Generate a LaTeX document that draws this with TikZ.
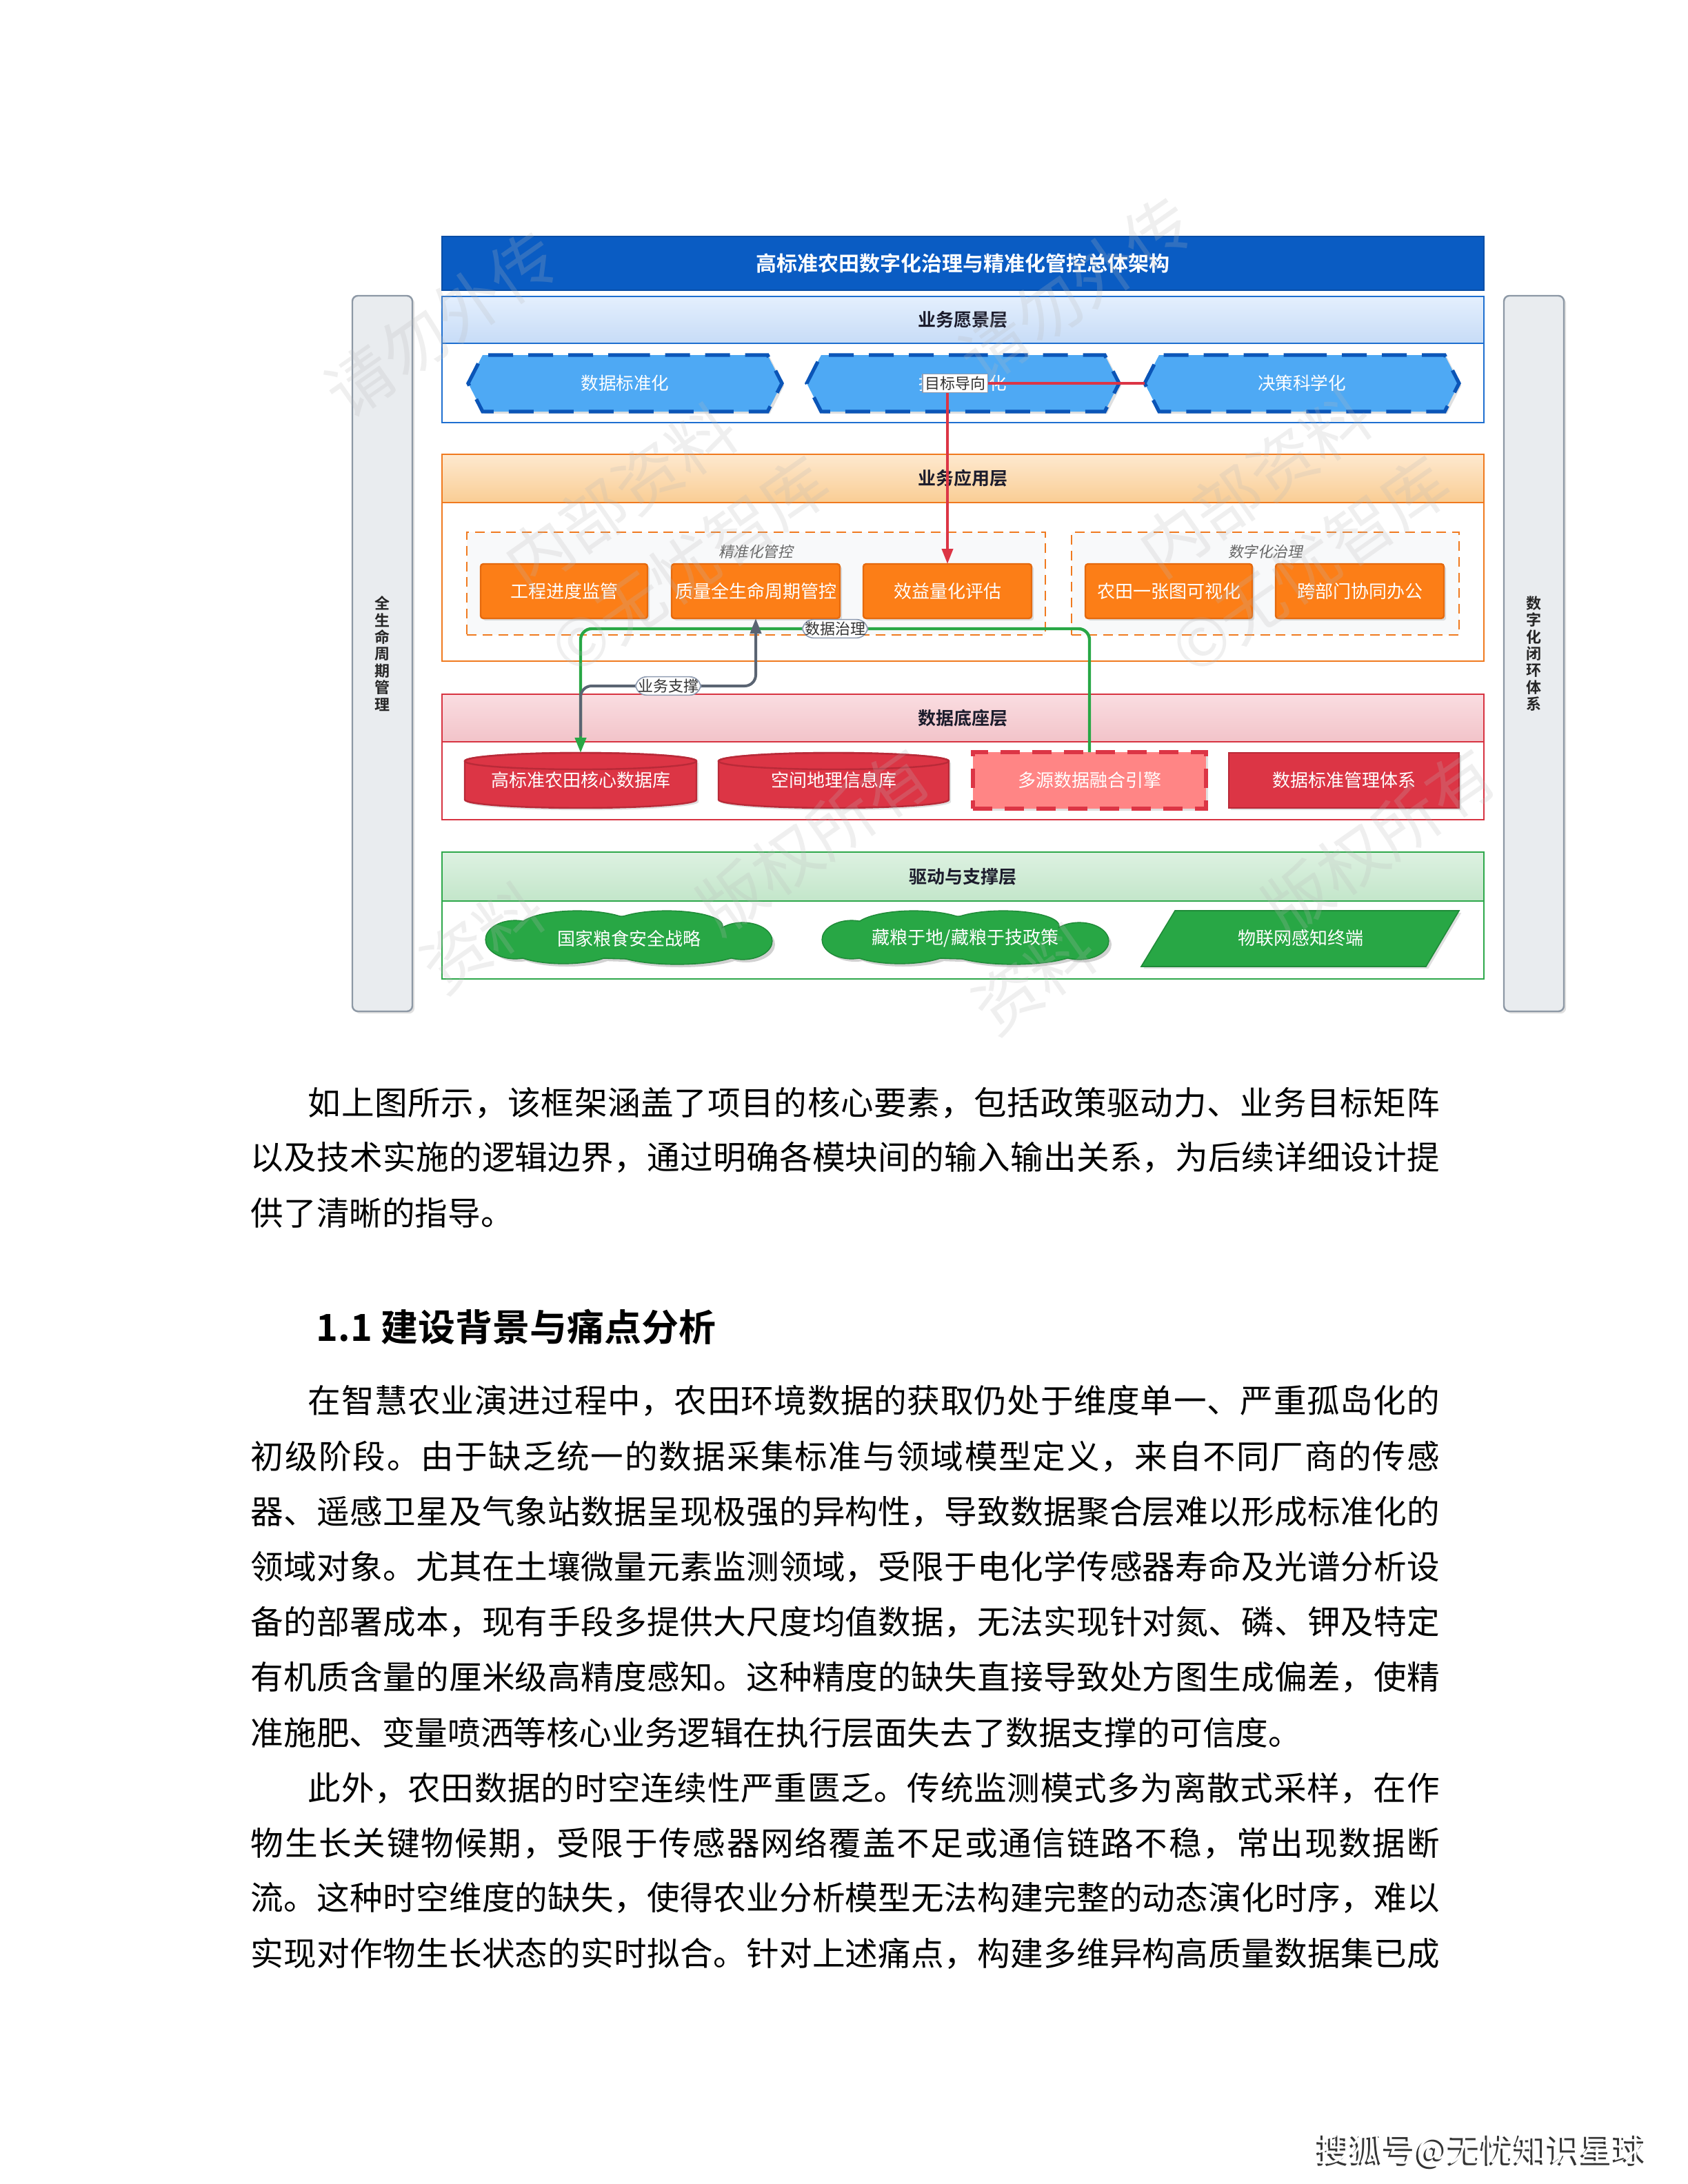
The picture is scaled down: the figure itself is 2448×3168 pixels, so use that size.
\documentclass[tikz,border=0pt]{standalone}
\usepackage{fontspec}
\setmainfont{Noto Sans CJK SC}[BoldFont={Noto Sans CJK SC Bold}]
\newfontfamily\slcjk{Noto Sans CJK SC}[FakeSlant=0.2]
\usetikzlibrary{shapes.geometric,shapes.symbols,shadows,arrows.meta}
\definecolor{tblue}{HTML}{0A5CC3}
\definecolor{Laline}{HTML}{1E6FD0}\definecolor{Latop}{HTML}{E4EFFD}\definecolor{Labot}{HTML}{C7DCF7}
\definecolor{hexfill}{HTML}{4EA9F4}\definecolor{hexline}{HTML}{0B55B7}
\definecolor{Lbline}{HTML}{F07A1F}\definecolor{Lbtop}{HTML}{FEE9CF}\definecolor{Lbbot}{HTML}{F9CD94}
\definecolor{orfill}{HTML}{FC7E17}\definecolor{orline}{HTML}{E56A0E}\definecolor{grpfill}{HTML}{F8F9FA}
\definecolor{Lcline}{HTML}{D73341}\definecolor{Lctop}{HTML}{FADDE1}\definecolor{Lcbot}{HTML}{F2C3C9}
\definecolor{redfill}{HTML}{DC3545}\definecolor{redline}{HTML}{B92A38}\definecolor{fusefill}{HTML}{FF8585}
\definecolor{Ldline}{HTML}{2EA84B}\definecolor{Ldtop}{HTML}{DDF1E1}\definecolor{Ldbot}{HTML}{C3E6CA}
\definecolor{grfill}{HTML}{28A745}\definecolor{grline}{HTML}{1F8A38}
\definecolor{barfill}{HTML}{E9ECEF}\definecolor{barline}{HTML}{8D98A5}
\definecolor{argray}{HTML}{5A6472}\definecolor{elab}{HTML}{8E9BB0}\definecolor{hdtext}{HTML}{1C1C2C}
\newcommand\fs[1]{\fontsize{#1}{#1}\selectfont}
\def\spr#1{\ifx\relax#1\else#1\hfill\expandafter\spr\fi}
\newcommand\jline[2]{\makebox[#1][s]{\spr#2\relax\unskip}}
\newcommand\bx[7]{\node[#6, inner sep=0pt, outer sep=0pt, minimum width={(#4-#2)*0.25pt}, minimum height={(#5-#3)*0.25pt}] (#1) at ({(#2+#4)/2},{(#3+#5)/2}) {#7};}
\newcommand\cyl[4]{%
  \filldraw[fill=redfill, draw=redline, line width=0.6pt, drop shadow={shadow xshift=0.8pt, shadow yshift=-0.8pt, opacity=0.25}]
    (#1,#3+12) -- (#1,#4-12) arc[start angle=180, end angle=360, x radius={(#2-#1)*0.125pt}, y radius=3pt]
    -- (#2,#3+12) arc[start angle=0, end angle=180, x radius={(#2-#1)*0.125pt}, y radius=3pt] -- cycle;
  \draw[redline, line width=0.6pt] ({(#1+#2)/2},#3+12) ellipse[x radius={(#2-#1)*0.125pt}, y radius=3pt];}
\newcommand\puffs{0/0/150/30, -165/3/42/27, 165/5/42/26, -75/-13/85/25, 55/-17/80/21, -95/16/75/21, 70/17/95/21}
\newcommand\cloudblob[2]{%
  \begin{scope}[shift={(#1,#2)}]
    \foreach \ex/\ey/\rx/\ry in \puffs {\fill[black!18] (\ex+5,\ey+5) ellipse[x radius={\rx*0.25pt}, y radius={\ry*0.25pt}];}
    \foreach \ex/\ey/\rx/\ry in \puffs {\draw[grline, line width=0.8pt] (\ex,\ey) ellipse[x radius={\rx*0.25pt}, y radius={\ry*0.25pt}];}
    \foreach \ex/\ey/\rx/\ry in \puffs {\fill[grfill] (\ex,\ey) ellipse[x radius={\rx*0.25pt}, y radius={\ry*0.25pt}];}
  \end{scope}}
\begin{document}
\begin{tikzpicture}[x=0.25pt,y=-0.25pt,
  shd/.style={drop shadow={shadow xshift=0.8pt, shadow yshift=-0.8pt, opacity=0.25}},
  titlebar/.style={fill=tblue, draw=tblue!85!black, line width=0.5pt, text=white, font=\bfseries\fs{7.5pt}},
  hdrtext/.style={font=\bfseries\fs{6.5pt}, text=hdtext},
  lbody/.style={fill=white, draw=#1, line width=0.7pt},
  lhead/.style n args={3}{draw=#1, line width=0.7pt, top color=#2, bottom color=#3, hdrtext},
  hexs/.style={signal, signal to=east and west, signal pointer angle=126, fill=hexfill, draw=hexline, line width=1.3pt, dash pattern=on 9pt off 5.5pt, text=white, font=\fs{6.4pt}, shd},
  obox/.style={fill=orfill, draw=orline, line width=0.6pt, rounded corners=1pt, text=white, font=\fs{6.5pt}, shd},
  grp/.style={fill=grpfill, draw=Lbline, line width=0.6pt, dash pattern=on 3.5pt off 2.2pt},
  grplabel/.style={inner sep=0pt, text=black!60, font=\slcjk\fs{5.4pt}},
  txtw/.style={text=white, font=\fs{6.5pt}},
  fusest/.style={fill=fusefill, draw=redfill, line width=1.3pt, dash pattern=on 7pt off 4.5pt, text=white, font=\fs{6.5pt}, shd},
  redbox/.style={fill=redfill, draw=redline, line width=0.5pt, text=white, font=\fs{6.5pt}, shd},
  sidebar/.style={fill=barfill, draw=barline, line width=0.6pt, rounded corners=2pt, align=center, font=\bfseries\fontsize{5.5pt}{6.1pt}\selectfont, text=black!85, shd},
  elabel/.style={fill=white, draw=elab, line width=0.4pt, inner sep=0.8pt, text=black!80, font=\fs{5.5pt}},
  conn/.style={line width=#1, rounded corners=4pt},
  tip/.style={-{Triangle[length=5.5pt,width=4pt]}},
  para/.style={anchor=west, inner sep=0pt, text=black, font=\fs{11.9pt}},
  wm/.style={text=gray!55, opacity=0.22, font=\fs{24pt}, rotate=35}
]
\useasboundingbox (0,0) rectangle (2448,3168);
\fill[white] (0,0) rectangle (2448,3168);

% side bars
\bx{lbar}{511}{429}{598}{1467}{sidebar}{全\\生\\命\\周\\期\\管\\理}
\bx{rbar}{2181}{429}{2268}{1467}{sidebar}{数\\字\\化\\闭\\环\\体\\系}

% title
\bx{title}{641}{343}{2152}{421}{titlebar}{高标准农田数字化治理与精准化管控总体架构}

% layer 1
\bx{L1b}{641}{498}{2152}{613}{lbody=Laline}{}
\bx{L1h}{641}{430}{2152}{498}{lhead={Laline}{Latop}{Labot}}{业务愿景层}
\bx{h1}{679}{515}{1134}{597}{hexs}{数据标准化}
\bx{h2}{1170}{515}{1623}{597}{hexs}{指标导向化}
\bx{h3}{1660}{515}{2116}{597}{hexs}{决策科学化}

% layer 2
\bx{L2b}{641}{729}{2152}{959}{lbody=Lbline}{}
\bx{L2h}{641}{659}{2152}{729}{lhead={Lbline}{Lbtop}{Lbbot}}{业务应用层}
\bx{g1}{677}{772}{1516}{921}{grp}{}
\bx{g2}{1554}{772}{2116}{921}{grp}{}
\node[grplabel] (g1l) at (1096,800) {精准化管控};
\node[grplabel] (g2l) at (1835,800) {数字化治理};
\bx{b1}{697}{818}{939}{897}{obox}{工程进度监管}
\bx{b2}{974}{818}{1218}{897}{obox}{质量全生命周期管控}
\bx{b3}{1252}{818}{1496}{897}{obox}{效益量化评估}
\bx{b4}{1574}{818}{1816}{897}{obox}{农田一张图可视化}
\bx{b5}{1850}{818}{2094}{897}{obox}{跨部门协同办公}

% layer 3
\bx{L3b}{641}{1076}{2152}{1189}{lbody=Lcline}{}
\bx{L3h}{641}{1007}{2152}{1076}{lhead={Lcline}{Lctop}{Lcbot}}{数据底座层}
\cyl{674}{1010}{1092}{1172}
\bx{db1}{674}{1092}{1010}{1172}{txtw}{高标准农田核心数据库}
\cyl{1042}{1376}{1092}{1172}
\bx{db2}{1042}{1092}{1376}{1172}{txtw}{空间地理信息库}
\bx{fuse}{1411}{1091}{1749}{1173}{fusest}{多源数据融合引擎}
\bx{std}{1782}{1092}{2116}{1172}{redbox}{数据标准管理体系}

% layer 4
\bx{L4b}{641}{1307}{2152}{1420}{lbody=Ldline}{}
\bx{L4h}{641}{1236}{2152}{1307}{lhead={Ldline}{Ldtop}{Ldbot}}{驱动与支撑层}
\cloudblob{912}{1360}
\node[txtw] (c1) at (912,1361) {国家粮食安全战略};
\cloudblob{1400}{1360}
\node[txtw] (c2) at (1400,1361) {藏粮于地/藏粮于技政策};
\filldraw[fill=grfill, draw=grline, line width=0.4pt, shd] (1704,1321) -- (2116,1321) -- (2068,1402) -- (1655,1402) -- cycle;
\node[txtw] (iot) at (1886,1361) {物联网感知终端};

% connectors
\coordinate (gbend) at (0,912);
\coordinate (ybend) at (0,995);
\draw[conn=1.1pt, draw=grfill, tip] (fuse.north) |- node[pos=0.75, elabel] {数据治理} (db1.north |- gbend) -- (db1.north);
\draw[conn=1pt, draw=argray, tip] ([yshift=6pt]db1.north) |- node[pos=0.75, elabel] {业务支撑} (b2.south |- ybend) -- (b2.south);
\draw[line width=1pt, draw=redfill, tip] (h3.west) -| node[pos=0.48, elabel] {目标导向} (b3.north);

% watermark
\node[wm] (wa1) at (640,470) {请勿外传};
\node[wm] (wa2) at (1560,420) {请勿外传};
\node[wm] (wb1) at (900,720) {内部资料};
\node[wm] (wb2) at (1820,700) {内部资料};
\node[wm] (wc1) at (1000,820) {©无忧智库};
\node[wm] (wc2) at (1900,820) {©无忧智库};
\node[wm] (wd1) at (1180,1220) {版权所有};
\node[wm] (wd2) at (2000,1220) {版权所有};
\node[wm] (we1) at (700,1360) {资料};
\node[wm] (we2) at (1500,1420) {资料};

% body text
\node[para] (p1a) at (446,1600) {\jline{410.25pt}{如上图所示，该框架涵盖了项目的核心要素，包括政策驱动力、业务目标矩阵}};
\node[para] (p1b) at (363,1679) {\jline{431pt}{以及技术实施的逻辑边界，通过明确各模块间的输入输出关系，为后续详细设计提}};
\node[para] (p1c) at (363,1759) {供了清晰的指导。};

\node[anchor=west, inner sep=0pt, font=\bfseries\fs{13.5pt}] (head) at (458,1925) {1.1 建设背景与痛点分析};

\node[para] (p2a) at (446,2032) {\jline{410.25pt}{在智慧农业演进过程中，农田环境数据的获取仍处于维度单一、严重孤岛化的}};
\node[para] (p2b) at (363,2113) {\jline{431pt}{初级阶段。由于缺乏统一的数据采集标准与领域模型定义，来自不同厂商的传感}};
\node[para] (p2c) at (363,2193) {\jline{431pt}{器、遥感卫星及气象站数据呈现极强的异构性，导致数据聚合层难以形成标准化的}};
\node[para] (p2d) at (363,2273) {\jline{431pt}{领域对象。尤其在土壤微量元素监测领域，受限于电化学传感器寿命及光谱分析设}};
\node[para] (p2e) at (363,2353) {\jline{431pt}{备的部署成本，现有手段多提供大尺度均值数据，无法实现针对氮、磷、钾及特定}};
\node[para] (p2f) at (363,2433) {\jline{431pt}{有机质含量的厘米级高精度感知。这种精度的缺失直接导致处方图生成偏差，使精}};
\node[para] (p2g) at (363,2513) {准施肥、变量喷洒等核心业务逻辑在执行层面失去了数据支撑的可信度。};
\node[para] (p3a) at (446,2594) {\jline{410.25pt}{此外，农田数据的时空连续性严重匮乏。传统监测模式多为离散式采样，在作}};
\node[para] (p3b) at (363,2674) {\jline{431pt}{物生长关键物候期，受限于传感器网络覆盖不足或通信链路不稳，常出现数据断}};
\node[para] (p3c) at (363,2753) {\jline{431pt}{流。这种时空维度的缺失，使得农业分析模型无法构建完整的动态演化时序，难以}};
\node[para] (p3d) at (363,2834) {\jline{431pt}{实现对作物生长状态的实时拟合。针对上述痛点，构建多维异构高质量数据集已成}};

% footer
\node[anchor=west, inner sep=0pt, text=black!80, font=\fs{12pt}] (footsh) at (1907,3122) {搜狐号@无忧知识星球};
\node[anchor=west, inner sep=0pt, text=white, font=\fs{12pt}] (foot) at (1910,3119) {搜狐号@无忧知识星球};
\end{tikzpicture}
\end{document}
